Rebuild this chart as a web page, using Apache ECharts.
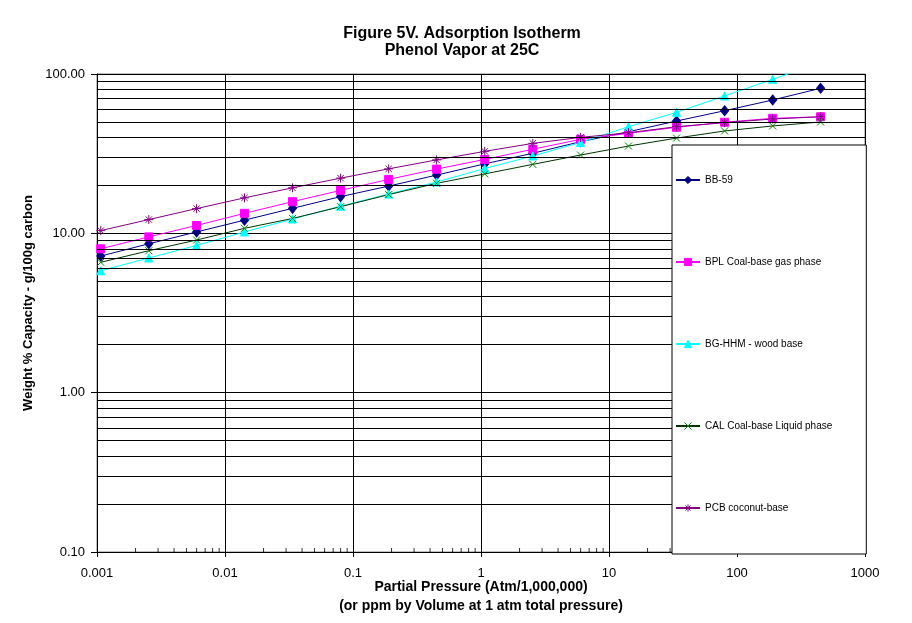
<!DOCTYPE html>
<html>
<head>
<meta charset="utf-8">
<title>Figure 5V. Adsorption Isotherm</title>
<script src="https://cdn.jsdelivr.net/npm/echarts@6/dist/echarts.min.js"></script>
<style>
  html, body { margin: 0; padding: 0; background: #fff; }
  #chart { width: 912px; height: 623px; }
</style>
</head>
<body>
<div id="chart"></div>
<script>
// partial pressure, ppm (x for every series)
var pressure = [0.00107, 0.00254, 0.006, 0.0142, 0.0337, 0.08, 0.19, 0.45, 1.07, 2.54, 6.0, 14.2, 33.7, 80, 190, 450];
// weight % capacity, g/100g carbon
var bb59  = [7.2, 8.6, 10.2, 12.1, 14.35, 17.0, 19.8, 23.2, 27.3, 31.8, 37.6, 43.4, 50.7, 58.8, 68.7, 81.3];
var bpl   = [8.0, 9.5, 11.2, 13.35, 15.8, 18.6, 21.8, 25.3, 29.1, 33.7, 38.9, 42.4, 46.3, 49.8, 52.7, 53.9];
var bghhm = [5.82, 7.0, 8.4, 10.2, 12.3, 14.8, 17.65, 21.0, 25.5, 30.6, 37.2, 46.7, 57.5, 72.8, 92.6, 118];
var cal   = [6.58, 7.78, 9.08, 10.75, 12.4, 14.7, 17.5, 20.6, 23.6, 27.1, 31.0, 35.3, 39.6, 43.9, 47.2, 50.0];
var pcb   = [10.4, 12.2, 14.3, 16.7, 19.3, 22.2, 25.4, 28.9, 32.7, 36.7, 40.0, 42.8, 46.7, 49.5, 52.2, 53.9];

var seriesNames = ['BB-59', 'BPL Coal-base gas phase', 'BG-HHM - wood base', 'CAL Coal-base Liquid phase', 'PCB coconut-base'];

// minor grid / tick positions (2..9 in each decade)
var mantissa = [2, 3, 4, 5, 6, 7, 8, 9];
var yDecades = [0.1, 1, 10];
var xDecades = [0.001, 0.01, 0.1, 1, 10, 100];

var yMinor = [];
yDecades.forEach(function(d) { mantissa.forEach(function(m) { yMinor.push(+(m * d).toPrecision(3)); }); });
var xMinor = [];
xDecades.forEach(function(d) { mantissa.forEach(function(m) { xMinor.push(+(m * d).toPrecision(3)); }); });

var font = 'Liberation Sans, Arial, sans-serif';
var crossPath = 'path://M0,0L10,10M10,0L0,10';
var starPath = 'path://M5,0L5,10M0,5L10,5M1.5,1.5L8.5,8.5M8.5,1.5L1.5,8.5';

function pairs(ys) {
    return pressure.map(function(x, i) { return [x, ys[i]]; });
}

function lineSeries(name, ys, color, symbol, size, lineColor) {
    return {
        name: name,
        type: 'line',
        data: pairs(ys),
        symbol: symbol,
        symbolSize: size,
        showAllSymbol: true,
        lineStyle: { color: lineColor || color, width: 1 },
        itemStyle: { color: color, borderColor: color, borderWidth: 1 },
        emphasis: { disabled: true },
        z: 3
    };
}

var chart = echarts.init(document.getElementById('chart'));

var option = {
    animation: false,
    backgroundColor: '#fff',
    textStyle: { fontFamily: font },
    title: {
        text: 'Figure 5V. Adsorption Isotherm\nPhenol Vapor at 25C',
        left: 457,
        top: 20,
        textAlign: 'center',
        textStyle: { fontFamily: font, fontSize: 16, fontWeight: 'bold', color: '#000', lineHeight: 17 }
    },
    grid: {
        left: 97, top: 74, right: 47, bottom: 71,
        outerBoundsMode: 'none',
        show: true, borderColor: '#808080', borderWidth: 1, backgroundColor: '#fff'
    },
    legend: {
        data: seriesNames,
        orient: 'vertical',
        left: 672,
        top: 145,
        backgroundColor: '#fff',
        borderColor: '#000',
        borderWidth: 1,
        borderRadius: 0,
        padding: [30, 34, 41, 3],
        itemGap: 72,
        itemWidth: 24,
        itemHeight: 9,
        selectedMode: false,
        itemStyle: { borderWidth: 1 },
        textStyle: { fontFamily: font, fontSize: 10, color: '#000' },
        z: 10
    },
    xAxis: {
        type: 'log',
        logBase: 10,
        min: 0.001,
        max: 1000,
        splitNumber: 6,
        name: 'Partial Pressure (Atm/1,000,000)\n(or ppm by Volume at 1 atm total pressure)',
        nameLocation: 'middle',
        nameGap: 26,
        nameMoveOverlap: false,
        nameTextStyle: { fontFamily: font, fontSize: 14, fontWeight: 'bold', color: '#000', lineHeight: 19 },
        axisLine: { lineStyle: { color: '#000', width: 1 } },
        axisTick: { show: true, length: 5, lineStyle: { color: '#000' } },
        axisLabel: {
            fontFamily: font, fontSize: 13, color: '#000', margin: 15,
            formatter: function(v) { return String(+v.toPrecision(1)); }
        },
        splitLine: { show: true, lineStyle: { color: '#000', width: 1 } }
    },
    yAxis: {
        type: 'log',
        logBase: 10,
        min: 0.1,
        max: 100,
        splitNumber: 3,
        name: 'Weight % Capacity - g/100g carbon',
        nameLocation: 'middle',
        nameGap: 62,
        nameMoveOverlap: false,
        nameTextStyle: { fontFamily: font, fontSize: 13, fontWeight: 'bold', color: '#000', padding: [0, 0, 0, 20] },
        axisLine: { lineStyle: { color: '#000', width: 1 } },
        axisTick: { show: true, length: 6, lineStyle: { color: '#000' } },
        axisLabel: {
            fontFamily: font, fontSize: 13, color: '#000', margin: 12,
            formatter: function(v) { return (+v.toPrecision(1)).toFixed(2); }
        },
        splitLine: { show: true, lineStyle: { color: '#000', width: 1 } }
    },
    series: [
        {
            name: 'minor-grid',
            type: 'line',
            data: [],
            silent: true,
            z: 1,
            markLine: {
                silent: true,
                symbol: 'none',
                label: { show: false },
                lineStyle: { color: '#000', type: 'solid', width: 1 },
                emphasis: { disabled: true },
                animation: false,
                data: yMinor.map(function(v) { return { yAxis: v }; })
            }
        },
        {
            name: 'minor-ticks',
            type: 'scatter',
            data: xMinor.map(function(v) { return [v, 0.1]; }),
            symbol: 'rect',
            symbolSize: [1, 4],
            symbolOffset: [0, -2],
            itemStyle: { color: '#000' },
            silent: true,
            z: 1
        },
        lineSeries(seriesNames[0], bb59, '#000080', 'diamond', [8, 10]),
        lineSeries(seriesNames[1], bpl, '#FF00FF', 'rect', 8),
        lineSeries(seriesNames[2], bghhm, '#00FFFF', 'triangle', 8),
        lineSeries(seriesNames[3], cal, '#008000', crossPath, 7, '#003300'),
        lineSeries(seriesNames[4], pcb, '#800080', starPath, 9)
    ]
};

chart.setOption(option);
</script>
</body>
</html>
